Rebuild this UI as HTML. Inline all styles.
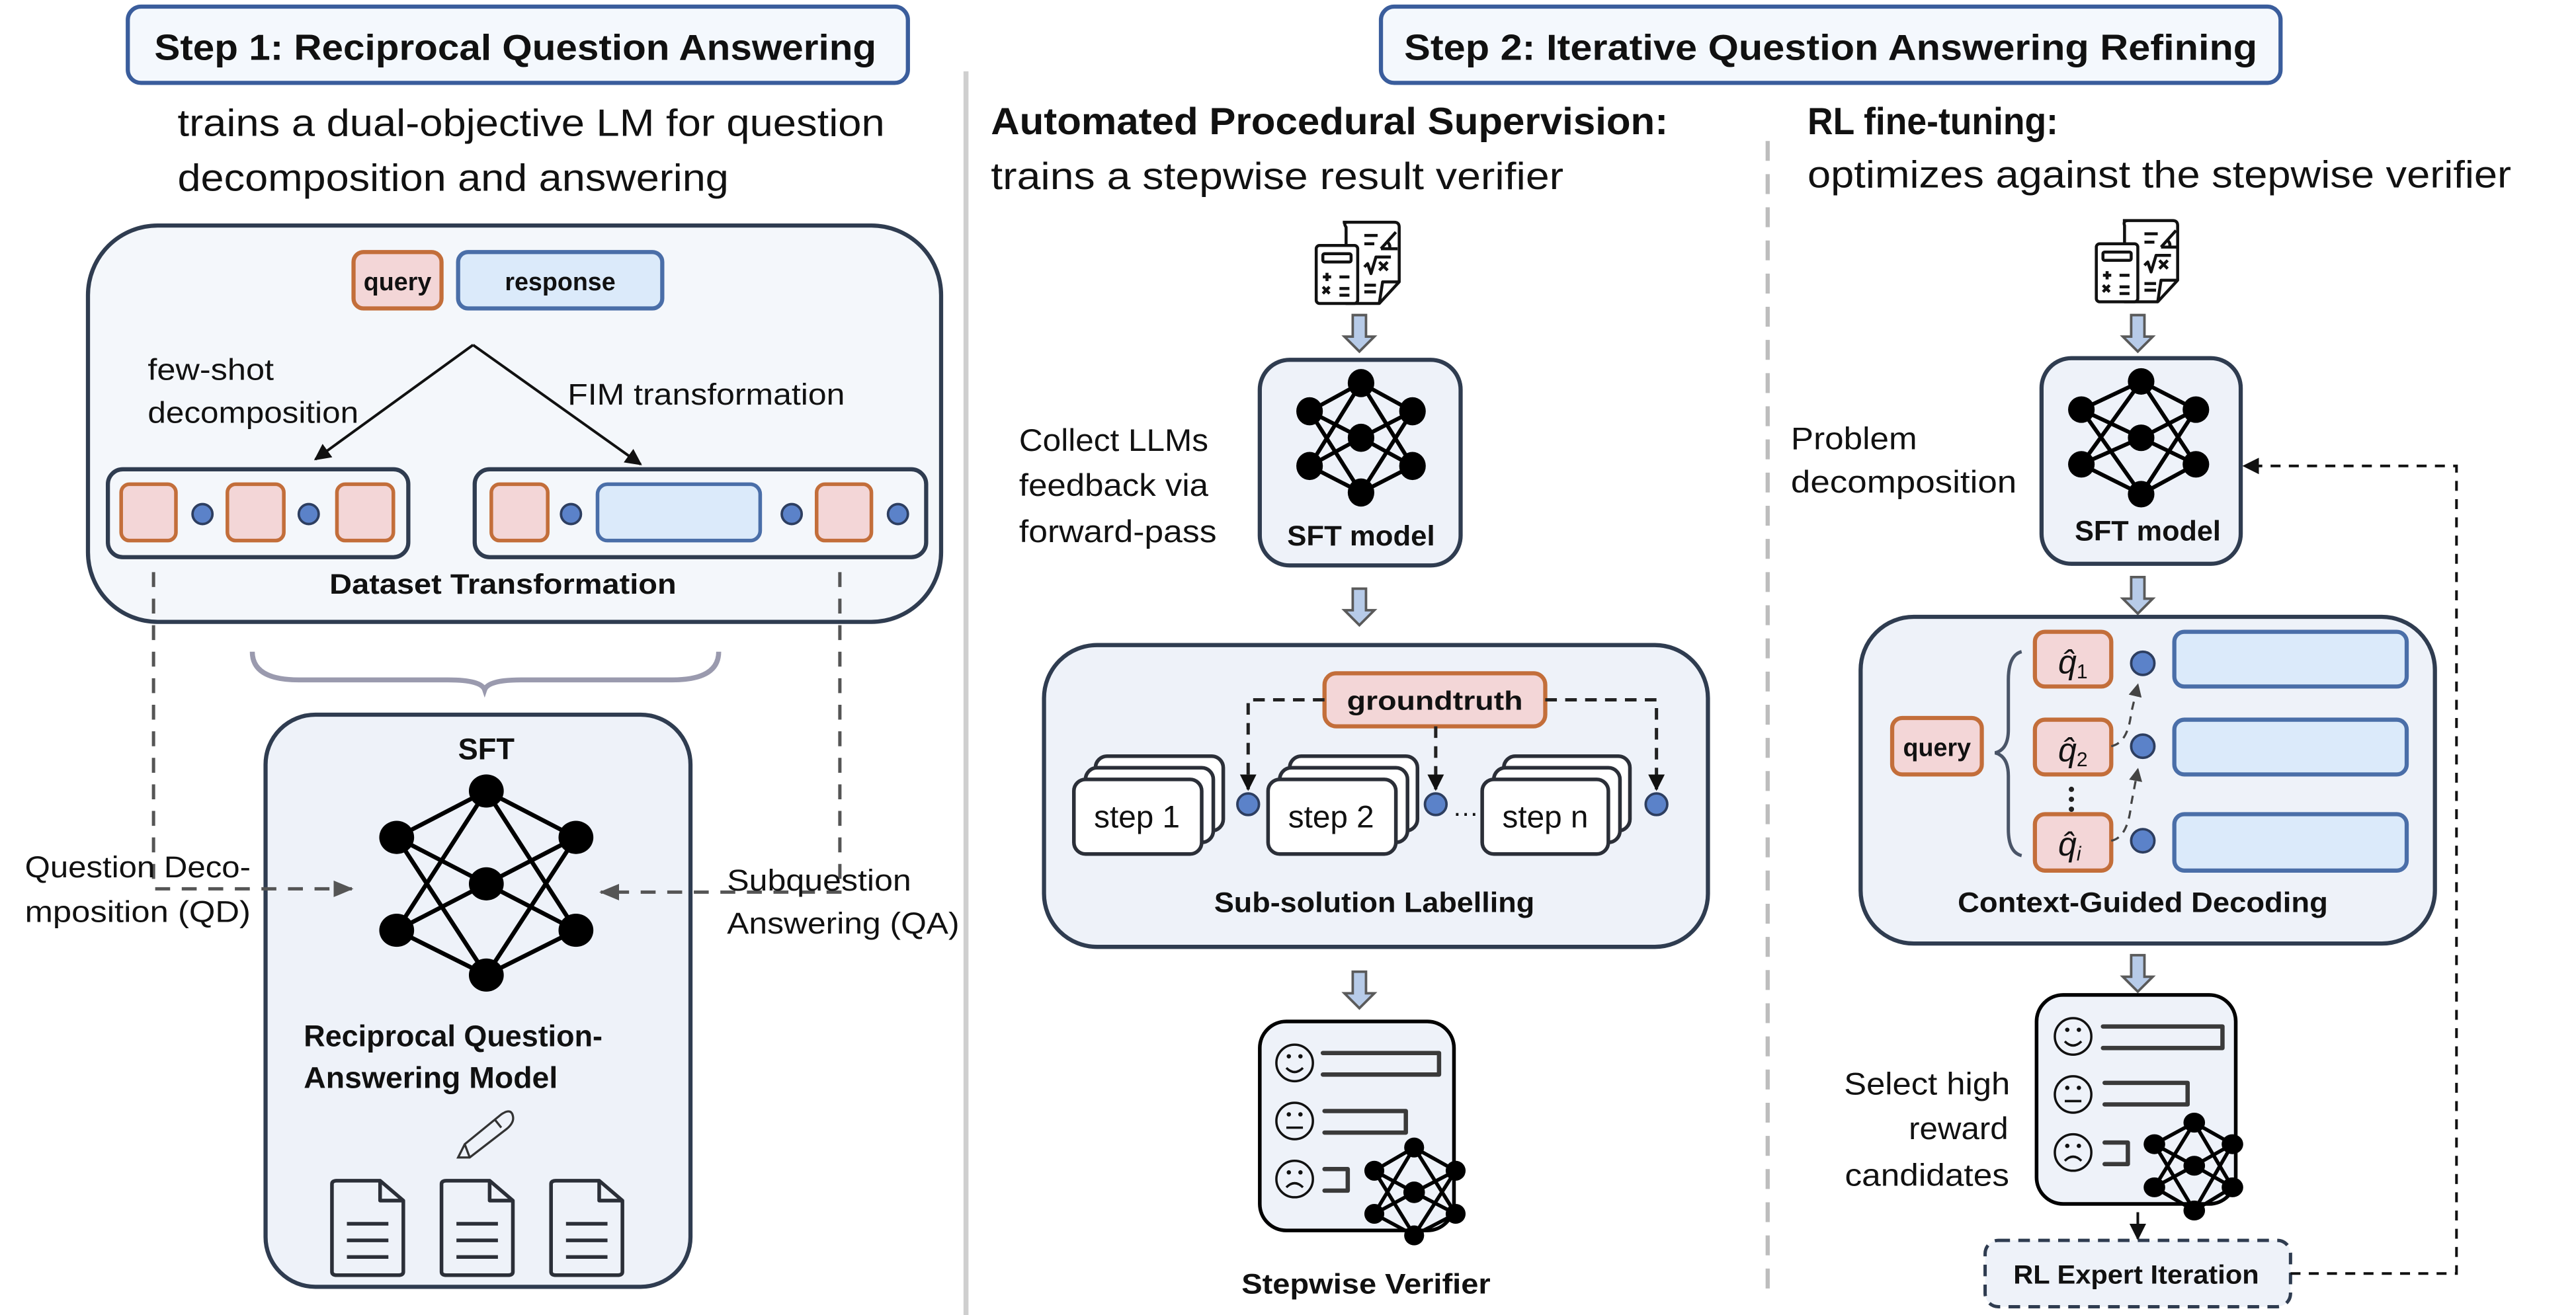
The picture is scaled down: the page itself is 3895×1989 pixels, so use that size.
<!DOCTYPE html>
<html><head><meta charset="utf-8"><style>
html,body{margin:0;padding:0;background:#fff;}
svg{display:block;}
text{font-family:"Liberation Sans",sans-serif;fill:#111;}
.b{font-weight:bold;}
</style></head><body>
<svg xmlns="http://www.w3.org/2000/svg" width="3895" height="1989" viewBox="0 0 1552 793" preserveAspectRatio="none">
<defs>
<marker id="ah" markerWidth="10" markerHeight="10" refX="9" refY="5" orient="auto" markerUnits="userSpaceOnUse"><path d="M0,0 L10,5 L0,10 z" fill="#111"/></marker>
<marker id="ahg" markerWidth="12" markerHeight="10" refX="11" refY="5" orient="auto" markerUnits="userSpaceOnUse"><path d="M0,0 L12,5 L0,10 z" fill="#555"/></marker>
<marker id="ahs" markerWidth="8" markerHeight="8" refX="7" refY="4" orient="auto" markerUnits="userSpaceOnUse"><path d="M0,0 L8,4 L0,8 z" fill="#444"/></marker>
</defs>

<!-- dividers -->
<line x1="582" y1="43" x2="582" y2="793" stroke="#cfcfcf" stroke-width="3"/>
<line x1="1065" y1="85" x2="1065" y2="780" stroke="#bdbdbd" stroke-width="2.5" stroke-dasharray="12 8"/>

<!-- headers -->
<rect x="77" y="4" width="470" height="46" rx="8" fill="#f4f8fd" stroke="#3a5d9c" stroke-width="2.5"/>
<text x="93" y="36" class="b" font-size="22" textLength="435" lengthAdjust="spacingAndGlyphs">Step 1: Reciprocal Question Answering</text>
<rect x="832" y="4" width="542" height="46" rx="8" fill="#f4f8fd" stroke="#3a5d9c" stroke-width="2.5"/>
<text x="846" y="36" class="b" font-size="22" textLength="514" lengthAdjust="spacingAndGlyphs">Step 2: Iterative Question Answering Refining</text>

<text x="107" y="82" font-size="23" textLength="426" lengthAdjust="spacingAndGlyphs">trains a dual-objective LM for question</text>
<text x="107" y="115" font-size="23" textLength="332" lengthAdjust="spacingAndGlyphs">decomposition and answering</text>
<text x="597" y="81" class="b" font-size="23" textLength="408" lengthAdjust="spacingAndGlyphs">Automated Procedural Supervision:</text>
<text x="597" y="114" font-size="23" textLength="345" lengthAdjust="spacingAndGlyphs">trains a stepwise result verifier</text>
<text x="1089" y="81" class="b" font-size="23" textLength="151" lengthAdjust="spacingAndGlyphs">RL fine-tuning:</text>
<text x="1089" y="113" font-size="23" textLength="424" lengthAdjust="spacingAndGlyphs">optimizes against the stepwise verifier</text>

<!-- ===== LEFT ===== -->
<rect x="53" y="136" width="514" height="239" rx="42" fill="#f4f7fb" stroke="#2f3c50" stroke-width="2.5"/>
<rect x="213" y="152" width="53" height="34" rx="6" fill="#f3d6d7" stroke="#c36e3a" stroke-width="2.5"/>
<text x="239.5" y="175" class="b" font-size="15" text-anchor="middle">query</text>
<rect x="276" y="152" width="123" height="34" rx="6" fill="#dbeafa" stroke="#4a6ea8" stroke-width="2.5"/>
<text x="337.5" y="175" class="b" font-size="15" text-anchor="middle">response</text>
<line x1="285" y1="208" x2="190" y2="277" stroke="#111" stroke-width="1.6" marker-end="url(#ah)"/>
<line x1="285" y1="208" x2="386" y2="280" stroke="#111" stroke-width="1.6" marker-end="url(#ah)"/>
<text x="89" y="229" font-size="18" textLength="76" lengthAdjust="spacingAndGlyphs">few-shot</text>
<text x="89" y="255" font-size="18" textLength="127" lengthAdjust="spacingAndGlyphs">decomposition</text>
<text x="342" y="244" font-size="18" textLength="167" lengthAdjust="spacingAndGlyphs">FIM transformation</text>

<rect x="65" y="283" width="181" height="53" rx="9" fill="#f4f7fb" stroke="#2f3c50" stroke-width="2.5"/>
<rect x="73" y="292" width="33" height="34" rx="5" fill="#f3d6d7" stroke="#c36e3a" stroke-width="2.2"/>
<rect x="137" y="292" width="34" height="34" rx="5" fill="#f3d6d7" stroke="#c36e3a" stroke-width="2.2"/>
<rect x="203" y="292" width="34" height="34" rx="5" fill="#f3d6d7" stroke="#c36e3a" stroke-width="2.2"/>
<circle cx="122" cy="310" r="6" fill="#5b82c9" stroke="#2d3e60" stroke-width="1.5"/>
<circle cx="186" cy="310" r="6" fill="#5b82c9" stroke="#2d3e60" stroke-width="1.5"/>
<rect x="286" y="283" width="272" height="53" rx="9" fill="#f4f7fb" stroke="#2f3c50" stroke-width="2.5"/>
<rect x="296" y="292" width="34" height="34" rx="5" fill="#f3d6d7" stroke="#c36e3a" stroke-width="2.2"/>
<rect x="360" y="292" width="98" height="34" rx="6" fill="#dbeafa" stroke="#4a6ea8" stroke-width="2.2"/>
<rect x="492" y="292" width="33" height="34" rx="5" fill="#f3d6d7" stroke="#c36e3a" stroke-width="2.2"/>
<circle cx="344" cy="310" r="6" fill="#5b82c9" stroke="#2d3e60" stroke-width="1.5"/>
<circle cx="477" cy="310" r="6" fill="#5b82c9" stroke="#2d3e60" stroke-width="1.5"/>
<circle cx="541" cy="310" r="6" fill="#5b82c9" stroke="#2d3e60" stroke-width="1.5"/>
<text x="303" y="358" class="b" font-size="17" text-anchor="middle" textLength="209" lengthAdjust="spacingAndGlyphs">Dataset Transformation</text>

<path d="M152,393 Q152,410 180,410 L270,410 Q290,410 292,416 Q294,410 314,410 L405,410 Q433,410 433,393" fill="none" stroke="#9a9aae" stroke-width="3"/>

<rect x="160" y="431" width="256" height="345" rx="30" fill="#eef2f9" stroke="#2f3c50" stroke-width="2.5"/>
<text x="293" y="458" class="b" font-size="18" text-anchor="middle">SFT</text>
<g stroke="#000" stroke-width="2.6">
<line x1="239" y1="505" x2="293" y2="477"/><line x1="239" y1="505" x2="293" y2="533"/><line x1="239" y1="505" x2="293" y2="588"/>
<line x1="239" y1="561" x2="293" y2="477"/><line x1="239" y1="561" x2="293" y2="533"/><line x1="239" y1="561" x2="293" y2="588"/>
<line x1="347" y1="505" x2="293" y2="477"/><line x1="347" y1="505" x2="293" y2="533"/><line x1="347" y1="505" x2="293" y2="588"/>
<line x1="347" y1="561" x2="293" y2="477"/><line x1="347" y1="561" x2="293" y2="533"/><line x1="347" y1="561" x2="293" y2="588"/>
</g>
<g fill="#000"><ellipse cx="239" cy="505" rx="10.5" ry="10"/><ellipse cx="239" cy="561" rx="10.5" ry="10"/><ellipse cx="293" cy="477" rx="10.5" ry="10"/><ellipse cx="293" cy="533" rx="10.5" ry="10"/><ellipse cx="293" cy="588" rx="10.5" ry="10"/><ellipse cx="347" cy="505" rx="10.5" ry="10"/><ellipse cx="347" cy="561" rx="10.5" ry="10"/></g>
<text x="183" y="631" class="b" font-size="18" textLength="180" lengthAdjust="spacingAndGlyphs">Reciprocal Question-</text>
<text x="183" y="656" class="b" font-size="18" textLength="153" lengthAdjust="spacingAndGlyphs">Answering Model</text>
<!-- pencil -->
<g fill="none" stroke="#333" stroke-width="1.3">
<path d="M280,690 L302,672 Q308,668 309,673 Q310,677 305,681 L283,698 L276,698 Z"/>
<line x1="280" y1="690" x2="283" y2="698"/>
<line x1="298" y1="675" x2="302" y2="680"/>
</g>
<!-- docs -->
<g fill="none" stroke="#2b2f38" stroke-width="2.2" stroke-linejoin="round">
<path d="M200,714 Q200,712 203,712 L229,712 L243,724 L243,767 Q243,769 240,769 L203,769 Q200,769 200,767 Z"/><path d="M229,712 L229,724 L243,724"/>
<line x1="209" y1="738" x2="234" y2="738"/><line x1="209" y1="748" x2="234" y2="748"/><line x1="209" y1="758" x2="234" y2="758"/>
<path d="M266,714 Q266,712 269,712 L295,712 L309,724 L309,767 Q309,769 306,769 L269,769 Q266,769 266,767 Z"/><path d="M295,712 L295,724 L309,724"/>
<line x1="275" y1="738" x2="300" y2="738"/><line x1="275" y1="748" x2="300" y2="748"/><line x1="275" y1="758" x2="300" y2="758"/>
<path d="M332,714 Q332,712 335,712 L361,712 L375,724 L375,767 Q375,769 372,769 L335,769 Q332,769 332,767 Z"/><path d="M361,712 L361,724 L375,724"/>
<line x1="341" y1="738" x2="366" y2="738"/><line x1="341" y1="748" x2="366" y2="748"/><line x1="341" y1="758" x2="366" y2="758"/>
</g>
<!-- dashed QD/QA -->
<path d="M92.5,345 L92.5,536 L212,536" fill="none" stroke="#555" stroke-width="2" stroke-dasharray="9 7" marker-end="url(#ahg)"/>
<path d="M506,345 L506,538 L362,538" fill="none" stroke="#555" stroke-width="2" stroke-dasharray="9 7" marker-end="url(#ahg)"/>
<text x="15" y="529" font-size="18" textLength="136" lengthAdjust="spacingAndGlyphs">Question Deco-</text>
<text x="15" y="556" font-size="18" textLength="136" lengthAdjust="spacingAndGlyphs">mposition (QD)</text>
<text x="438" y="537" font-size="18" textLength="111" lengthAdjust="spacingAndGlyphs">Subquestion</text>
<text x="438" y="563" font-size="18" textLength="140" lengthAdjust="spacingAndGlyphs">Answering (QA)</text>

<!-- ===== MIDDLE ===== -->
<!-- doc icon -->
<g fill="none" stroke="#111" stroke-width="1.8" stroke-linejoin="round">
<path d="M809,134 L840,134 Q843,134 843,137 L843,170 L831,183 L811,183 L811,137 Q809,134 812,134"/>
<path d="M843,170 L833,170 L831,183"/>
<rect x="793" y="148" width="25" height="35" rx="2" fill="#fff"/>
<rect x="797" y="153" width="17" height="5" rx="1"/>
<path d="M797,167 h5 M799.5,164.5 v5 M807,167 h6 M797,173 l4,4 M801,173 l-4,4 M807,174 h6 M807,178 h6"/>
<path d="M822,142 h8 M822,147 h6 M832,150 l9,-10 M832,150 h10 M836,146 q2,2 1,4"/>
<path d="M822,161 l2,-2 l2,6 l3,-10 h9 M831,158 l5,5 M836,158 l-5,5"/>
<path d="M822,172 h7 M822,176 h7"/>
</g>
<path d="M815,190 h8 v13 h5 l-9,9 l-9,-9 h5 z" fill="#b7cbe8" stroke="#5a5a5a" stroke-width="1.5"/>
<rect x="759" y="217" width="121" height="124" rx="18" fill="#eef2f9" stroke="#2f3c50" stroke-width="2.5"/>
<g stroke="#000" stroke-width="2.4">
<line x1="789" y1="248" x2="820" y2="231"/><line x1="789" y1="248" x2="820" y2="264"/><line x1="789" y1="248" x2="820" y2="297"/>
<line x1="789" y1="281" x2="820" y2="231"/><line x1="789" y1="281" x2="820" y2="264"/><line x1="789" y1="281" x2="820" y2="297"/>
<line x1="851" y1="248" x2="820" y2="231"/><line x1="851" y1="248" x2="820" y2="264"/><line x1="851" y1="248" x2="820" y2="297"/>
<line x1="851" y1="281" x2="820" y2="231"/><line x1="851" y1="281" x2="820" y2="264"/><line x1="851" y1="281" x2="820" y2="297"/>
</g>
<g fill="#000"><ellipse cx="789" cy="248" rx="8" ry="8.5"/><ellipse cx="789" cy="281" rx="8" ry="8.5"/><ellipse cx="820" cy="231" rx="8" ry="8.5"/><ellipse cx="820" cy="264" rx="8" ry="8.5"/><ellipse cx="820" cy="297" rx="8" ry="8.5"/><ellipse cx="851" cy="248" rx="8" ry="8.5"/><ellipse cx="851" cy="281" rx="8" ry="8.5"/></g>
<text x="820" y="329" class="b" font-size="17" text-anchor="middle" fill="#222" textLength="89" lengthAdjust="spacingAndGlyphs">SFT model</text>
<text x="614" y="272" font-size="19" textLength="114" lengthAdjust="spacingAndGlyphs">Collect LLMs</text>
<text x="614" y="299" font-size="19" textLength="114" lengthAdjust="spacingAndGlyphs">feedback via</text>
<text x="614" y="327" font-size="19" textLength="119" lengthAdjust="spacingAndGlyphs">forward-pass</text>
<path d="M815,355 h8 v13 h5 l-9,9 l-9,-9 h5 z" fill="#b7cbe8" stroke="#5a5a5a" stroke-width="1.5"/>

<rect x="629" y="389" width="400" height="182" rx="32" fill="#eef2f9" stroke="#2f3c50" stroke-width="2.5"/>
<!-- stacks -->
<g fill="#fff" stroke="#2b2f38" stroke-width="2.2">
<rect x="660" y="456" width="77" height="45" rx="7"/><rect x="654" y="463" width="77" height="45" rx="7"/><rect x="647" y="470" width="77" height="45" rx="7"/>
<rect x="777" y="456" width="77" height="45" rx="7"/><rect x="771" y="463" width="77" height="45" rx="7"/><rect x="764" y="470" width="77" height="45" rx="7"/>
<rect x="906" y="456" width="76" height="45" rx="7"/><rect x="900" y="463" width="76" height="45" rx="7"/><rect x="893" y="470" width="76" height="45" rx="7"/>
</g>
<text x="685" y="499" font-size="19" text-anchor="middle" fill="#222">step 1</text>
<text x="802" y="499" font-size="19" text-anchor="middle" fill="#222">step 2</text>
<text x="931" y="499" font-size="19" text-anchor="middle" fill="#222">step n</text>
<text x="883" y="492" font-size="16" text-anchor="middle">…</text>
<rect x="798" y="406" width="133" height="32" rx="7" fill="#f3d6d7" stroke="#c36e3a" stroke-width="2.5"/>
<text x="864.5" y="428" class="b" font-size="16" text-anchor="middle" textLength="106" lengthAdjust="spacingAndGlyphs">groundtruth</text>
<g fill="none" stroke="#222" stroke-width="2" stroke-dasharray="7 5">
<path d="M798,422 L752,422 L752,476" marker-end="url(#ah)"/>
<path d="M865,438 L865,476" marker-end="url(#ah)"/>
<path d="M931,422 L998,422 L998,476" marker-end="url(#ah)"/>
</g>
<circle cx="752" cy="485" r="6.5" fill="#5b82c9" stroke="#2d3e60" stroke-width="1.5"/>
<circle cx="865" cy="485" r="6.5" fill="#5b82c9" stroke="#2d3e60" stroke-width="1.5"/>
<circle cx="998" cy="485" r="6.5" fill="#5b82c9" stroke="#2d3e60" stroke-width="1.5"/>
<text x="828" y="550" class="b" font-size="17" text-anchor="middle" fill="#222" textLength="193" lengthAdjust="spacingAndGlyphs">Sub-solution Labelling</text>
<path d="M815,586 h8 v13 h5 l-9,9 l-9,-9 h5 z" fill="#b7cbe8" stroke="#5a5a5a" stroke-width="1.5"/>

<!-- middle verifier -->
<rect x="759" y="616" width="117" height="126" rx="16" fill="#eef2f9" stroke="#000" stroke-width="2.2"/>
<g fill="none" stroke="#111" stroke-width="1.4">
<circle cx="780" cy="641" r="11"/><path d="M775,644 q5,5 10,0"/>
<circle cx="780" cy="676" r="11"/><path d="M775,680 h10"/>
<circle cx="780" cy="711" r="11"/><path d="M775,716 q5,-5 10,0"/>
</g>
<g fill="#111"><circle cx="776.5" cy="637" r="1.3"/><circle cx="783.5" cy="637" r="1.3"/><circle cx="776.5" cy="672" r="1.3"/><circle cx="783.5" cy="672" r="1.3"/><circle cx="776.5" cy="707" r="1.3"/><circle cx="783.5" cy="707" r="1.3"/></g>
<g fill="none" stroke="#3a3a3a" stroke-width="2.6" stroke-linecap="round" stroke-linejoin="round">
<path d="M797,635 H867 V648 H797"/><path d="M798,670 H847 V683 H798"/><path d="M798,705 H812 V718 H798"/>
</g>
<g stroke="#000" stroke-width="2.2">
<line x1="828" y1="706" x2="852" y2="692"/><line x1="828" y1="706" x2="852" y2="719"/><line x1="828" y1="706" x2="852" y2="745"/>
<line x1="828" y1="732" x2="852" y2="692"/><line x1="828" y1="732" x2="852" y2="719"/><line x1="828" y1="732" x2="852" y2="745"/>
<line x1="877" y1="706" x2="852" y2="692"/><line x1="877" y1="706" x2="852" y2="719"/><line x1="877" y1="706" x2="852" y2="745"/>
<line x1="877" y1="732" x2="852" y2="692"/><line x1="877" y1="732" x2="852" y2="719"/><line x1="877" y1="732" x2="852" y2="745"/>
</g>
<g fill="#000"><circle cx="828" cy="706" r="6"/><circle cx="828" cy="732" r="6"/><circle cx="852" cy="692" r="6"/><circle cx="852" cy="719" r="6.5"/><circle cx="852" cy="745" r="6"/><circle cx="877" cy="706" r="6"/><circle cx="877" cy="732" r="6"/></g>
<text x="823" y="780" class="b" font-size="17" text-anchor="middle" textLength="150" lengthAdjust="spacingAndGlyphs">Stepwise Verifier</text>

<!-- ===== RIGHT ===== -->
<g fill="none" stroke="#111" stroke-width="1.8" stroke-linejoin="round">
<path d="M1279,133 L1309,133 Q1312,133 1312,136 L1312,169 L1300,182 L1280,182 L1280,136 Q1279,133 1282,133"/>
<path d="M1312,169 L1302,169 L1300,182"/>
<rect x="1263" y="147" width="25" height="35" rx="2" fill="#fff"/>
<rect x="1267" y="152" width="17" height="5" rx="1"/>
<path d="M1267,166 h5 M1269.5,163.5 v5 M1277,166 h6 M1267,172 l4,4 M1271,172 l-4,4 M1277,173 h6 M1277,177 h6"/>
<path d="M1292,141 h8 M1292,146 h6 M1302,149 l9,-10 M1302,149 h10 M1306,145 q2,2 1,4"/>
<path d="M1292,160 l2,-2 l2,6 l3,-10 h9 M1301,157 l5,5 M1306,157 l-5,5"/>
<path d="M1292,171 h7 M1292,175 h7"/>
</g>
<path d="M1284,190 h8 v13 h5 l-9,9 l-9,-9 h5 z" fill="#b7cbe8" stroke="#5a5a5a" stroke-width="1.5"/>
<rect x="1230" y="216" width="120" height="124" rx="18" fill="#eef2f9" stroke="#2f3c50" stroke-width="2.5"/>
<g stroke="#000" stroke-width="2.4">
<line x1="1254" y1="247" x2="1290" y2="230"/><line x1="1254" y1="247" x2="1290" y2="264"/><line x1="1254" y1="247" x2="1290" y2="298"/>
<line x1="1254" y1="280" x2="1290" y2="230"/><line x1="1254" y1="280" x2="1290" y2="264"/><line x1="1254" y1="280" x2="1290" y2="298"/>
<line x1="1323" y1="247" x2="1290" y2="230"/><line x1="1323" y1="247" x2="1290" y2="264"/><line x1="1323" y1="247" x2="1290" y2="298"/>
<line x1="1323" y1="280" x2="1290" y2="230"/><line x1="1323" y1="280" x2="1290" y2="264"/><line x1="1323" y1="280" x2="1290" y2="298"/>
</g>
<g fill="#000"><circle cx="1254" cy="247" r="8"/><circle cx="1254" cy="280" r="8"/><circle cx="1290" cy="230" r="8"/><circle cx="1290" cy="264" r="8"/><circle cx="1290" cy="298" r="8"/><circle cx="1323" cy="247" r="8"/><circle cx="1323" cy="280" r="8"/></g>
<text x="1294" y="326" class="b" font-size="17" text-anchor="middle" fill="#222" textLength="88" lengthAdjust="spacingAndGlyphs">SFT model</text>
<text x="1079" y="271" font-size="19" textLength="76" lengthAdjust="spacingAndGlyphs">Problem</text>
<text x="1079" y="297" font-size="19" textLength="136" lengthAdjust="spacingAndGlyphs">decomposition</text>
<path d="M1284,348 h8 v13 h5 l-9,9 l-9,-9 h5 z" fill="#b7cbe8" stroke="#5a5a5a" stroke-width="1.5"/>

<rect x="1121" y="372" width="346" height="197" rx="32" fill="#eef2f9" stroke="#2f3c50" stroke-width="2.5"/>
<rect x="1140" y="433" width="54" height="34" rx="6" fill="#f3d6d7" stroke="#c36e3a" stroke-width="2.5"/>
<text x="1167" y="456" class="b" font-size="15" text-anchor="middle">query</text>
<path d="M1218,393 Q1210,395 1210,410 L1210,440 Q1210,452 1202,454 Q1210,456 1210,468 L1210,500 Q1210,514 1218,516" fill="none" stroke="#4a5568" stroke-width="2"/>
<g fill="#f3d6d7" stroke="#c36e3a" stroke-width="2.5">
<rect x="1226" y="381" width="46" height="33" rx="6"/><rect x="1226" y="434" width="46" height="33" rx="6"/><rect x="1226" y="491" width="46" height="34" rx="6"/>
</g>
<g font-family="Liberation Serif,serif" font-style="italic" font-size="20">
<text x="1240" y="406">q̂<tspan font-size="12" font-style="normal" dy="3">1</tspan></text>
<text x="1240" y="459">q̂<tspan font-size="12" font-style="normal" dy="3">2</tspan></text>
<text x="1240" y="516">q̂<tspan font-size="12" dy="3">i</tspan></text>
</g>
<circle cx="1248" cy="476" r="1.6" fill="#222"/><circle cx="1248" cy="482" r="1.6" fill="#222"/><circle cx="1248" cy="488" r="1.6" fill="#222"/>
<g fill="#5b82c9" stroke="#2d3e60" stroke-width="1.5"><circle cx="1291" cy="400" r="7"/><circle cx="1291" cy="450" r="7"/><circle cx="1291" cy="507" r="7"/></g>
<g fill="#dbeafa" stroke="#4a6ea8" stroke-width="2.5">
<rect x="1310" y="381" width="140" height="33" rx="6"/><rect x="1310" y="434" width="140" height="33" rx="6"/><rect x="1310" y="491" width="140" height="34" rx="6"/>
</g>
<g fill="none" stroke="#444" stroke-width="1.3" stroke-dasharray="5 4">
<path d="M1272,450 Q1282,448 1284,430 L1288,413" marker-end="url(#ahs)"/>
<path d="M1272,507 Q1282,505 1284,485 L1288,464" marker-end="url(#ahs)"/>
</g>
<text x="1291" y="550" class="b" font-size="17" text-anchor="middle" fill="#222" textLength="223" lengthAdjust="spacingAndGlyphs">Context-Guided Decoding</text>
<path d="M1284,576 h8 v13 h5 l-9,9 l-9,-9 h5 z" fill="#b7cbe8" stroke="#5a5a5a" stroke-width="1.5"/>

<!-- right verifier -->
<rect x="1227" y="600" width="120" height="126" rx="16" fill="#eef2f9" stroke="#000" stroke-width="2.2"/>
<g fill="none" stroke="#111" stroke-width="1.4">
<circle cx="1249" cy="625" r="11"/><path d="M1244,628 q5,5 10,0"/>
<circle cx="1249" cy="660" r="11"/><path d="M1244,664 h10"/>
<circle cx="1249" cy="695" r="11"/><path d="M1244,700 q5,-5 10,0"/>
</g>
<g fill="#111"><circle cx="1245.5" cy="621" r="1.3"/><circle cx="1252.5" cy="621" r="1.3"/><circle cx="1245.5" cy="656" r="1.3"/><circle cx="1252.5" cy="656" r="1.3"/><circle cx="1245.5" cy="691" r="1.3"/><circle cx="1252.5" cy="691" r="1.3"/></g>
<g fill="none" stroke="#3a3a3a" stroke-width="2.6" stroke-linecap="round" stroke-linejoin="round">
<path d="M1267,619 H1339 V632 H1267"/><path d="M1268,653 H1318 V666 H1268"/><path d="M1268,689 H1282 V702 H1268"/>
</g>
<g stroke="#000" stroke-width="2.2">
<line x1="1298" y1="690" x2="1322" y2="677"/><line x1="1298" y1="690" x2="1322" y2="703"/><line x1="1298" y1="690" x2="1322" y2="730"/>
<line x1="1298" y1="716" x2="1322" y2="677"/><line x1="1298" y1="716" x2="1322" y2="703"/><line x1="1298" y1="716" x2="1322" y2="730"/>
<line x1="1345" y1="690" x2="1322" y2="677"/><line x1="1345" y1="690" x2="1322" y2="703"/><line x1="1345" y1="690" x2="1322" y2="730"/>
<line x1="1345" y1="716" x2="1322" y2="677"/><line x1="1345" y1="716" x2="1322" y2="703"/><line x1="1345" y1="716" x2="1322" y2="730"/>
</g>
<g fill="#000"><ellipse cx="1298" cy="690" rx="6.5" ry="6"/><ellipse cx="1298" cy="716" rx="6.5" ry="6"/><ellipse cx="1322" cy="677" rx="6.5" ry="6"/><ellipse cx="1322" cy="703" rx="6.5" ry="6"/><ellipse cx="1322" cy="730" rx="6.5" ry="6"/><ellipse cx="1345" cy="690" rx="6.5" ry="6"/><ellipse cx="1345" cy="716" rx="6.5" ry="6"/></g>
<text x="1161" y="660" font-size="19" text-anchor="middle" textLength="100" lengthAdjust="spacingAndGlyphs">Select high</text>
<text x="1180" y="687" font-size="19" text-anchor="middle" textLength="60" lengthAdjust="spacingAndGlyphs">reward</text>
<text x="1161" y="715" font-size="19" text-anchor="middle" textLength="99" lengthAdjust="spacingAndGlyphs">candidates</text>
<line x1="1288" y1="731" x2="1288" y2="747" stroke="#111" stroke-width="1.6" marker-end="url(#ah)"/>
<rect x="1196" y="748" width="184" height="40" rx="8" fill="#eef2f9" stroke="#2f3c50" stroke-width="2" stroke-dasharray="7 5"/>
<text x="1287" y="774" class="b" font-size="16" text-anchor="middle" fill="#222" textLength="148" lengthAdjust="spacingAndGlyphs">RL Expert Iteration</text>
<path d="M1380,768 L1480,768 L1480,281 L1352,281" fill="none" stroke="#111" stroke-width="1.6" stroke-dasharray="6 5" marker-end="url(#ah)"/>
</svg>
</body></html>
